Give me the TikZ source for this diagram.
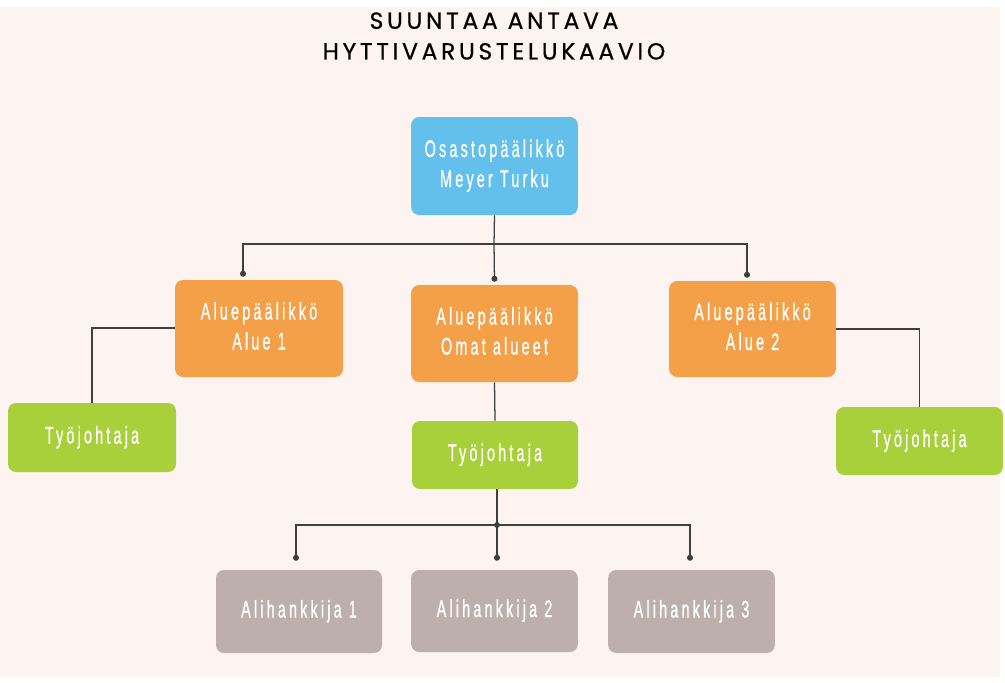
\documentclass[tikz,border=0pt]{standalone}
\usepackage{fontspec}
\usetikzlibrary{arrows.meta,calc}
\newfontfamily\titlefont[LetterSpace=16,FakeBold=0.6]{Poppins}
\newfontfamily\boxfont[LetterSpace=22,FakeBold=1.2]{Liberation Sans}
% condensed label: narrowed horizontally, lines centred
\newcommand{\boxtext}[1]{\scalebox{0.6}[1]{\begin{tabular}{@{}c@{}}#1\end{tabular}}}
\definecolor{bgpink}{HTML}{FDF4F2}
\definecolor{skyblue}{HTML}{63BFEB}
\definecolor{orangebox}{HTML}{F4A048}
\definecolor{greenbox}{HTML}{A8D03A}
\definecolor{greybox}{HTML}{BDB0AC}
\definecolor{linegrey}{HTML}{3F3F3F}
\tikzset{
  orgbox/.style={rounded corners=6pt, draw=none, text=white, align=center,
    font=\boxfont\fontsize{18}{22.5}\selectfont, inner sep=0pt},
  link/.style={draw=linegrey, line width=0.95pt},
  droplink/.style={link, -{Circle[length=4.5pt]}},
}
\begin{document}
\begin{tikzpicture}[x=0.75pt,y=-0.75pt]
  \useasboundingbox (0,0) rectangle (1005,682);
  \fill[white] (0,0) rectangle (1005,682);
  \fill[bgpink] (0,7) rectangle (1000,677);

  % title
  \node (title) at (494,36) [align=center, font=\titlefont\fontsize{17.5}{23}\selectfont]
    {SUUNTAA ANTAVA\\HYTTIVARUSTELUKAAVIO};

  % boxes
  \node[orgbox, fill=skyblue, minimum width=125pt, minimum height=73.5pt] (top) at (494.5,166) {\boxtext{Osastopäälikkö\\Meyer Turku}};
  \node[orgbox, fill=orangebox, minimum width=126pt, minimum height=72.75pt] (al) at (259,328.5) {\boxtext{Aluepäälikkö\\Alue 1}};
  \node[orgbox, fill=orangebox, minimum width=125pt, minimum height=72.75pt] (am) at (494.5,333.5) {\boxtext{Aluepäälikkö\\Omat alueet}};
  \node[orgbox, fill=orangebox, minimum width=125pt, minimum height=72pt] (ar) at (752.5,329) {\boxtext{Aluepäälikkö\\Alue 2}};
  \node[orgbox, fill=greenbox, minimum width=126pt, minimum height=51.75pt] (gl) at (92,437.5) {\boxtext{Työjohtaja}};
  \node[orgbox, fill=greenbox, minimum width=124.5pt, minimum height=51pt] (gm) at (495,455) {\boxtext{Työjohtaja}};
  \node[orgbox, fill=greenbox, minimum width=125pt, minimum height=51pt] (gr) at (919.5,441) {\boxtext{Työjohtaja}};
  \node[orgbox, fill=greybox, minimum width=124.5pt, minimum height=62.25pt] (s1) at (299,611.5) {\boxtext{Alihankkija 1}};
  \node[orgbox, fill=greybox, minimum width=125pt, minimum height=61.5pt] (s2) at (494.5,611) {\boxtext{Alihankkija 2}};
  \node[orgbox, fill=greybox, minimum width=125pt, minimum height=62.25pt] (s3) at (691.5,611.5) {\boxtext{Alihankkija 3}};

  % upper bus
  \coordinate (bus1) at (494,244);
  \draw[link] (top.south) -- (bus1);
  \draw[droplink] (bus1) -| ($(al.north)+(-16,-3)$);
  \draw[droplink] (bus1) -- ($(am.north)+(0,-3)$);
  \draw[droplink] (bus1) -| ($(ar.north)+(-5.5,-3)$);

  % side branches
  \draw[link] (al.west |- 0,328) -| (gl.north);
  \draw[link] (ar.east |- 0,329) -| (gr.north);
  \draw[link] (am.south) -- (gm.north);

  % lower bus
  \coordinate (bus2) at (497,525);
  \draw[link] (gm.south -| bus2) -- (bus2);
  \fill[linegrey] (bus2) circle (2.2pt);
  \draw[droplink] (bus2) -| ($(s1.north)+(-3,-9)$);
  \draw[droplink] (bus2) -- ($(s2.north)+(2.5,-9)$);
  \draw[droplink] (bus2) -| ($(s3.north)+(-1.5,-9)$);
\end{tikzpicture}
\end{document}
